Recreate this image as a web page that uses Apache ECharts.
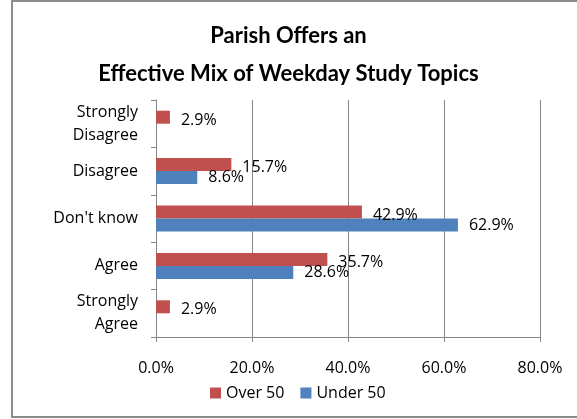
<!DOCTYPE html>
<html>
<head>
<meta charset="utf-8">
<script src="https://cdn.jsdelivr.net/npm/echarts@6/dist/echarts.min.js"></script>
<style>
  html, body { margin: 0; padding: 0; background: #fff; }
  #chart { width: 577px; height: 419px; }
</style>
</head>
<body>
<div id="chart"></div>
<script>
// categories top to bottom
const categories = ['Strongly\nDisagree', 'Disagree', "Don't know", 'Agree', 'Strongly\nAgree'];
const over50 = [2.9, 15.7, 42.9, 35.7, 2.9];
const under50 = [null, 8.6, 62.9, 28.6, null];
const xTicks = [0, 20, 40, 60, 80];

const font = '"Open Sans", sans-serif';

const label = {
  show: true,
  position: 'right',
  distance: 11,
  color: '#000',
  fontFamily: font,
  fontSize: 16,
  formatter: p => p.value == null ? '' : p.value.toFixed(1) + '%'
};

const chart = echarts.init(document.getElementById('chart'));
chart.setOption({
  animation: false,
  graphic: [{
    type: 'rect',
    shape: { x: 12, y: 1, width: 570, height: 416 },
    style: { fill: 'none', stroke: '#8c8c8c', lineWidth: 2 },
    silent: true
  }],
  title: {
    text: 'Parish Offers an\nEffective Mix of Weekday Study Topics',
    left: 'center',
    top: 12,
    textStyle: {
      fontFamily: 'Lato, sans-serif',
      fontWeight: 'bold',
      fontSize: 22,
      lineHeight: 38,
      color: '#000'
    }
  },
  legend: {
    data: ['Over 50', 'Under 50'],
    top: 380,
    left: 205,
    itemWidth: 11,
    itemHeight: 11,
    itemGap: 16,
    icon: 'rect',
    textStyle: { fontFamily: font, fontSize: 16, color: '#000' }
  },
  grid: { left: 156, right: 37, top: 100, bottom: 82, containLabel: false },
  xAxis: {
    type: 'value',
    min: xTicks[0],
    max: xTicks[xTicks.length - 1],
    interval: 20,
    axisLine: { show: true, lineStyle: { color: '#868686' } },
    axisTick: { show: true, length: 5, lineStyle: { color: '#868686' } },
    splitLine: { lineStyle: { color: '#868686' } },
    axisLabel: {
      margin: 23,
      color: '#000',
      fontFamily: font,
      fontSize: 16,
      formatter: v => v.toFixed(1) + '%'
    }
  },
  yAxis: {
    type: 'category',
    inverse: true,
    data: categories,
    axisLine: { show: true, lineStyle: { color: '#868686' } },
    axisTick: { show: true, length: 5, lineStyle: { color: '#868686' } },
    axisLabel: {
      margin: 18,
      color: '#000',
      fontFamily: font,
      fontSize: 16,
      lineHeight: 23,
      align: 'right'
    }
  },
  series: [
    {
      name: 'Over 50',
      type: 'bar',
      data: over50,
      barWidth: 13,
      barGap: '0%',
      itemStyle: { color: '#C0504D' },
      label: Object.assign({}, label, { offset: [0, 3] })
    },
    {
      name: 'Under 50',
      type: 'bar',
      data: under50,
      barWidth: 13,
      barGap: '0%',
      itemStyle: { color: '#4F81BD' },
      label: label
    }
  ]
});
</script>
</body>
</html>
